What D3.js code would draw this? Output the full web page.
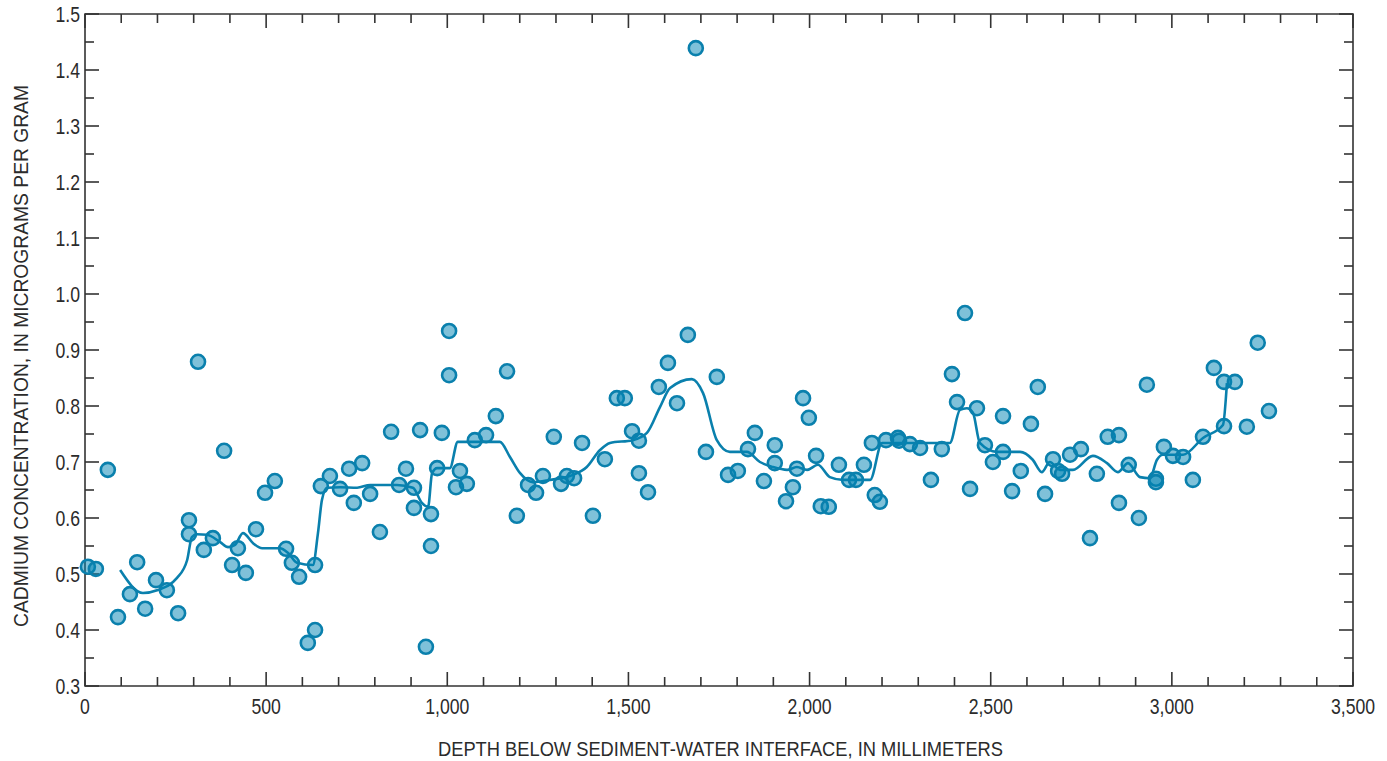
<!DOCTYPE html>
<html>
<head>
<meta charset="utf-8">
<script src="https://cdn.jsdelivr.net/npm/d3@7"></script>
<style>
  body { margin: 0; background: #fff; }
  svg { display: block; }
  .axis path, .axis line { stroke: #333; stroke-width: 1.6; }
  .tick-label { font-family: "Liberation Sans", Arial, sans-serif; font-size: 21.5px; fill: #2b2b2b; }
  .title { font-family: "Liberation Sans", Arial, sans-serif; font-size: 20.5px; fill: #2b2b2b; }
  .sample { fill: rgba(0, 131, 179, 0.5); stroke: #0a80ad; stroke-width: 2.6; }
  .trend { fill: none; stroke: #0a80ad; stroke-width: 2.6; stroke-linejoin: round; }
</style>
</head>
<body>
<svg id="chart" width="1387" height="761"></svg>
<script>
// depth below interface (mm) for each sample
const depths = [8, 30, 63, 91, 124, 144, 166, 196, 226, 257, 287, 287, 312, 328, 353, 384, 406, 422, 444, 472,
  497, 524, 555, 571, 591, 615, 635, 635, 651, 676, 704, 729, 742, 765, 787, 814, 845, 867, 886, 908,
  908, 925, 955, 941, 955, 972, 985, 1005, 1005, 1024, 1035, 1054, 1076, 1107, 1134, 1165, 1192, 1223, 1245, 1264,
  1294, 1314, 1330, 1350, 1372, 1402, 1435, 1468, 1490, 1510, 1529, 1529, 1554, 1584, 1609, 1634, 1664, 1686, 1714, 1744,
  1775, 1802, 1830, 1849, 1874, 1904, 1904, 1935, 1954, 1965, 1982, 1998, 2018, 2031, 2053, 2081, 2109, 2128, 2150, 2172,
  2180, 2194, 2211, 2244, 2247, 2277, 2305, 2335, 2365, 2393, 2407, 2429, 2443, 2462, 2484, 2506, 2534, 2534, 2559, 2583,
  2611, 2630, 2650, 2672, 2686, 2697, 2719, 2749, 2774, 2793, 2823, 2854, 2854, 2881, 2909, 2931, 2956, 2956, 2978, 3003,
  3031, 3058, 3086, 3116, 3144, 3174, 3144, 3207, 3237, 3268];

// cadmium concentration (ug/g) for each sample
const cadmium = [0.513, 0.509, 0.686, 0.423, 0.464, 0.521, 0.438, 0.489, 0.471, 0.430, 0.596, 0.571, 0.879, 0.543, 0.564, 0.720, 0.516, 0.546, 0.502, 0.580,
  0.645, 0.666, 0.545, 0.520, 0.495, 0.377, 0.400, 0.516, 0.657, 0.675, 0.652, 0.688, 0.627, 0.698, 0.643, 0.575, 0.754, 0.659, 0.688, 0.654,
  0.618, 0.757, 0.607, 0.370, 0.550, 0.689, 0.752, 0.934, 0.855, 0.655, 0.684, 0.661, 0.739, 0.748, 0.782, 0.862, 0.604, 0.659, 0.645, 0.675,
  0.745, 0.661, 0.675, 0.671, 0.734, 0.604, 0.705, 0.814, 0.814, 0.755, 0.738, 0.680, 0.646, 0.834, 0.877, 0.805, 0.927, 1.439, 0.718, 0.852,
  0.677, 0.684, 0.723, 0.752, 0.666, 0.730, 0.698, 0.630, 0.655, 0.688, 0.814, 0.779, 0.711, 0.621, 0.620, 0.695, 0.668, 0.668, 0.695, 0.734,
  0.641, 0.629, 0.739, 0.743, 0.738, 0.732, 0.725, 0.668, 0.723, 0.857, 0.807, 0.966, 0.652, 0.796, 0.730, 0.700, 0.782, 0.718, 0.648, 0.684,
  0.768, 0.834, 0.643, 0.705, 0.684, 0.679, 0.713, 0.723, 0.564, 0.679, 0.745, 0.748, 0.627, 0.695, 0.600, 0.838, 0.670, 0.664, 0.727, 0.711,
  0.709, 0.668, 0.745, 0.868, 0.843, 0.843, 0.764, 0.763, 0.913, 0.791];

// smoothed trend line
const trendDepth = [97, 160, 199, 254, 282, 295, 309, 337, 373, 395, 414, 436, 464, 489, 538, 560, 585, 629, 643, 654,
  668, 704, 751, 787, 861, 905, 930, 947, 958, 972, 1007, 1029, 1145, 1173, 1201, 1236, 1283, 1347, 1385, 1421,
  1449, 1512, 1551, 1587, 1615, 1675, 1706, 1744, 1780, 1827, 1863, 1899, 1938, 1965, 1993, 2023, 2056, 2092, 2167, 2200,
  2230, 2387, 2415, 2434, 2451, 2470, 2517, 2581, 2616, 2641, 2663, 2691, 2727, 2782, 2821, 2851, 2879, 2912, 2939, 2959,
  2975, 3031, 3086, 3141, 3152];
const trendValue = [0.507, 0.466, 0.471, 0.493, 0.525, 0.566, 0.571, 0.570, 0.557, 0.548, 0.552, 0.573, 0.555, 0.546, 0.546, 0.538, 0.520, 0.516, 0.573, 0.632,
  0.654, 0.655, 0.654, 0.659, 0.659, 0.654, 0.627, 0.620, 0.680, 0.689, 0.689, 0.736, 0.736, 0.709, 0.680, 0.664, 0.668, 0.677, 0.691, 0.721,
  0.734, 0.739, 0.752, 0.798, 0.832, 0.848, 0.823, 0.739, 0.718, 0.718, 0.700, 0.691, 0.686, 0.691, 0.686, 0.695, 0.673, 0.668, 0.668, 0.734,
  0.734, 0.734, 0.793, 0.796, 0.788, 0.734, 0.718, 0.718, 0.704, 0.682, 0.700, 0.686, 0.686, 0.711, 0.698, 0.682, 0.698, 0.673, 0.671, 0.704,
  0.713, 0.713, 0.743, 0.766, 0.841];

const xTicks = [0, 500, 1000, 1500, 2000, 2500, 3000, 3500];
const yTicks = [0.3, 0.4, 0.5, 0.6, 0.7, 0.8, 0.9, 1.0, 1.1, 1.2, 1.3, 1.4, 1.5];

const xTitle = 'DEPTH BELOW SEDIMENT-WATER INTERFACE, IN MILLIMETERS';
const yTitle = 'CADMIUM CONCENTRATION, IN MICROGRAMS PER GRAM';

const svg = d3.select('#chart');
const margin = { left: 85, right: 34, top: 14, bottom: 75 };
const width = 1387, height = 761;
const squeeze = 0.82; // narrow glyphs, like the condensed face of the original

const x = d3.scaleLinear().domain([0, 3500]).range([margin.left, width - margin.right]);
const y = d3.scaleLinear().domain([0.3, 1.5]).range([height - margin.bottom, margin.top]);

const x0 = x.range()[0], x1 = x.range()[1];
const y0 = y.range()[0], y1 = y.range()[1];

const major = 14, minor = 9;
const xMinor = d3.range(0, 3501, 100).filter(v => v % 500 !== 0);
const yMinor = d3.range(0.35, 1.5, 0.1);

// frame
const axis = svg.append('g').attr('class', 'axis');
axis.append('path')
  .attr('fill', 'none')
  .attr('d', `M${x0},${y1}H${x1}V${y0}H${x0}Z`);

// ticks pointing into the plot on every side
const tickLines = [];
xTicks.forEach(v => tickLines.push([x(v), y0, x(v), y0 - major], [x(v), y1, x(v), y1 + major]));
xMinor.forEach(v => tickLines.push([x(v), y0, x(v), y0 - minor], [x(v), y1, x(v), y1 + minor]));
yTicks.forEach(v => tickLines.push([x0, y(v), x0 + major, y(v)], [x1, y(v), x1 - major, y(v)]));
yMinor.forEach(v => tickLines.push([x0, y(v), x0 + minor, y(v)], [x1, y(v), x1 - minor, y(v)]));
axis.selectAll('line').data(tickLines).join('line')
  .attr('x1', d => d[0]).attr('y1', d => d[1])
  .attr('x2', d => d[2]).attr('y2', d => d[3]);

// labels
svg.append('g').selectAll('text').data(xTicks).join('text')
  .attr('class', 'tick-label')
  .attr('transform', d => `translate(${x(d)},${y0 + 28}) scale(${squeeze},1)`)
  .attr('text-anchor', 'middle')
  .text(d => d3.format(',')(d));

svg.append('g').selectAll('text').data(yTicks).join('text')
  .attr('class', 'tick-label')
  .attr('transform', d => `translate(${x0 - 5},${y(d) + 7.5}) scale(${squeeze},1)`)
  .attr('text-anchor', 'end')
  .text(d => d.toFixed(1));

svg.append('text').attr('class', 'title')
  .attr('x', 438).attr('y', 756)
  .attr('textLength', 565)
  .attr('lengthAdjust', 'spacingAndGlyphs')
  .text(xTitle);

svg.append('text').attr('class', 'title')
  .attr('transform', 'translate(28,627) rotate(-90)')
  .attr('textLength', 542)
  .attr('lengthAdjust', 'spacingAndGlyphs')
  .text(yTitle);

// trend
const line = d3.line()
  .x(d => x(d[0]))
  .y(d => y(d[1]))
  .curve(d3.curveMonotoneX);
svg.append('path').attr('class', 'trend')
  .attr('d', line(d3.zip(trendDepth, trendValue)));

// samples
svg.append('g').selectAll('circle').data(d3.zip(depths, cadmium)).join('circle')
  .attr('class', 'sample')
  .attr('cx', d => x(d[0]))
  .attr('cy', d => y(d[1]))
  .attr('r', 7);
</script>
</body>
</html>
